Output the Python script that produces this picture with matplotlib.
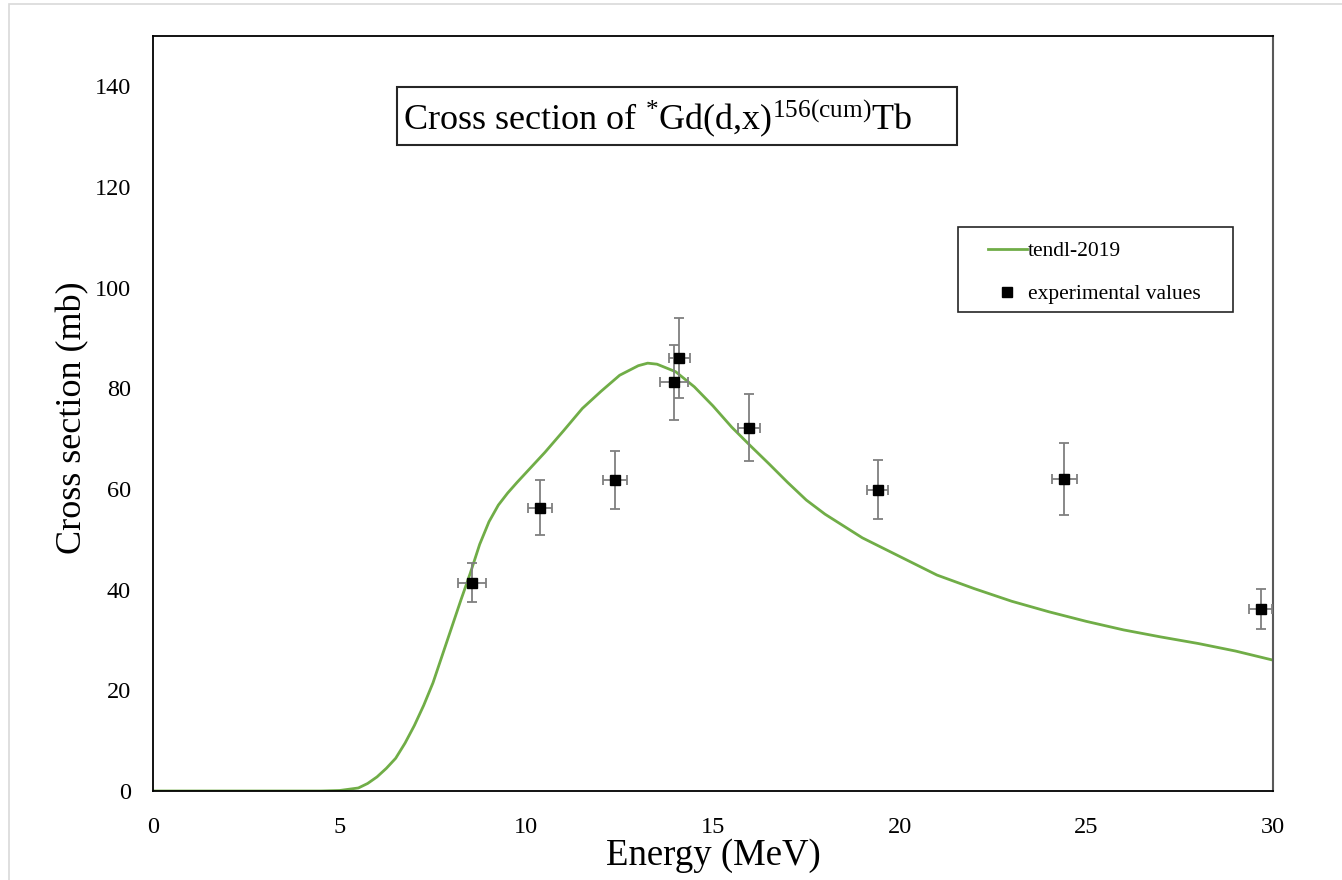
import matplotlib
matplotlib.use("Agg")
import matplotlib.pyplot as plt
from matplotlib.patches import Rectangle
from matplotlib.lines import Line2D

plt.rcParams['font.family'] = ['Liberation Serif', 'DejaVu Serif']
plt.rcParams['mathtext.fontset'] = 'custom'
plt.rcParams['mathtext.rm'] = 'Liberation Serif'
plt.rcParams['mathtext.it'] = 'Liberation Serif'
plt.rcParams['mathtext.bf'] = 'Liberation Serif:bold'

# TENDL-2019 curve
tendl_E = [0, 1, 2, 3, 4, 4.5, 5, 5.5, 5.75, 6, 6.25, 6.5, 6.75, 7, 7.25, 7.5, 7.75,
           8, 8.25, 8.5, 8.75, 9, 9.25, 9.5, 9.75, 10, 10.5, 11, 11.5, 12, 12.5, 13, 13.25,
           13.5, 14, 14.5, 15, 15.5, 16, 16.5, 17, 17.5, 18, 19, 20, 21, 22, 23, 24,
           25, 26, 27, 28, 29, 30]
tendl_xs = [0, 0, 0, 0, 0, 0, 0.1, 0.6, 1.5, 2.8, 4.5, 6.5, 9.5, 13, 17, 21.5, 27,
            32.5, 38, 43.3, 49, 53.5, 56.8, 59.2, 61.3, 63.3, 67.3, 71.6, 76.0, 79.4, 82.6, 84.5, 85,
            84.8, 83.3, 80.3, 76.5, 72.3, 68.6, 65.0, 61.3, 57.8, 55.0, 50.3, 46.6, 42.9,
            40.2, 37.7, 35.6, 33.7, 32.0, 30.6, 29.3, 27.8, 26.0]

# experimental values
exp_E = [8.55, 10.37, 12.38, 13.96, 14.10, 15.97, 19.41, 24.41, 29.67]
exp_xs = [41.4, 56.3, 61.8, 81.2, 86.0, 72.2, 59.9, 62.0, 36.2]
exp_dE = [0.37, 0.33, 0.32, 0.37, 0.29, 0.29, 0.29, 0.33, 0.30]
exp_dxs = [3.9, 5.4, 5.8, 7.4, 8.0, 6.6, 5.8, 7.1, 4.0]

xticks = [0, 5, 10, 15, 20, 25, 30]
yticks = [0, 20, 40, 60, 80, 100, 120, 140]

fig = plt.figure(figsize=(13.42, 8.8), dpi=100)
fig.patches.append(Rectangle((9 / 1342, -0.1), 1.2, 1.1 - 4 / 880, transform=fig.transFigure,
                             fill=False, edgecolor='#d9d9d9', linewidth=1.2))
ax = fig.add_axes([153 / 1342, 1 - 791 / 880, (1273 - 153) / 1342, (791 - 36) / 880])

line, = ax.plot(tendl_E, tendl_xs, color='#70ad47', linewidth=2.0, zorder=2)
ax.errorbar(exp_E, exp_xs, xerr=exp_dE, yerr=exp_dxs, fmt='s', color='black',
            markersize=7, ecolor='#7f7f7f', elinewidth=1.3, capsize=3.5, capthick=1.3,
            zorder=3)

ax.set_xlim(0, 30)
ax.set_ylim(0, 150)
ax.set_xticks(xticks)
ax.set_yticks(yticks)
ax.tick_params(axis='both', length=0, labelsize=17.5)
ax.tick_params(axis='x', pad=19)
ax.tick_params(axis='y', pad=16)
for s in ['left', 'top', 'bottom']:
    ax.spines[s].set_color('black')
    ax.spines[s].set_linewidth(1.3)
ax.spines['right'].set_color('#595959')
ax.spines['right'].set_linewidth(1.5)

ax.set_xlabel('Energy (MeV)', fontsize=26.5, labelpad=0)
ax.set_ylabel('Cross section (mb)', fontsize=26)
ax.yaxis.set_label_coords(-0.0714, 0.495)
ax.yaxis.label.set_verticalalignment('center')

# title box
ax.add_patch(Rectangle((0.2179, 0.8556), 0.5, 0.0769, transform=ax.transAxes,
                       fill=True, facecolor='white', edgecolor='#262626', linewidth=1.5, zorder=4))
ax.text(0.2232, 0.877, r'Cross section of $^{*}$Gd(d,x)$^{156(\mathrm{cum})}$Tb',
        transform=ax.transAxes, fontsize=26, ha='left', va='baseline', zorder=5)

# legend box
ax.add_patch(Rectangle((0.71875, 0.6344), 0.2455, 0.1126, transform=ax.transAxes,
                       fill=True, facecolor='white', edgecolor='#262626', linewidth=1.2, zorder=4))
proxy_line = Line2D([], [], color='#70ad47', linewidth=2.0)
proxy_pts = Line2D([], [], color='black', marker='s', markersize=7, linestyle='none')
leg = ax.legend([proxy_line, proxy_pts], ['tendl-2019', 'experimental values'],
                loc='upper left', bbox_to_anchor=(0.7455, 0.7284), fontsize=15.5,
                frameon=False, borderpad=0, borderaxespad=0,
                labelspacing=1.08, handlelength=1.8, handletextpad=0.05)
leg.set_zorder(6)

fig.savefig('out.png', dpi=100)
